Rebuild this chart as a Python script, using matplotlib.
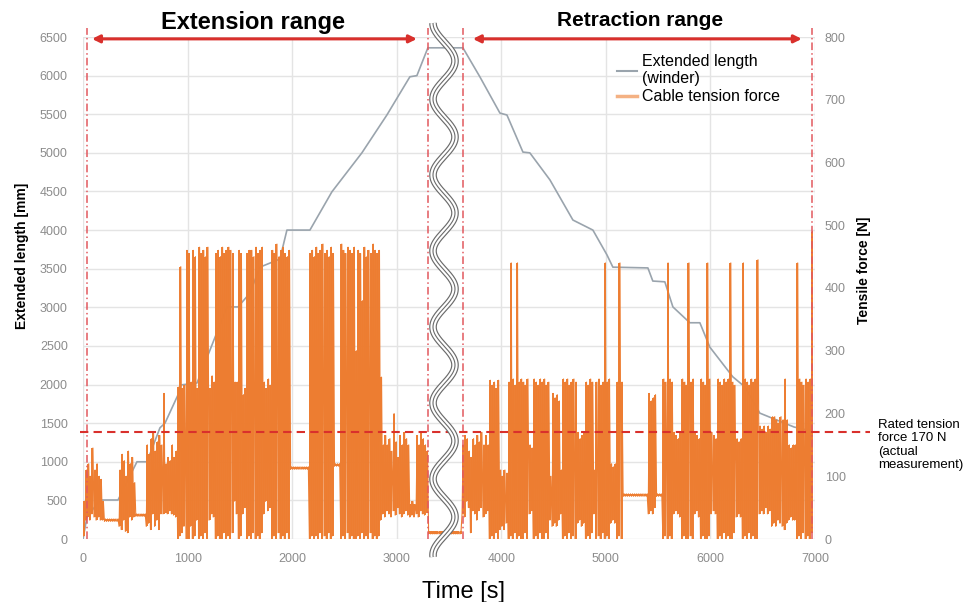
import numpy as np
import matplotlib
matplotlib.use('Agg')
import matplotlib.pyplot as plt
from matplotlib.lines import Line2D

plt.rcParams['font.family'] = ['Liberation Sans', 'DejaVu Sans']

# ─── Data ─────────────────────────────────────────────────────────────────────
# extended length of the winder [mm]
length_t = [0, 38, 163, 335, 516, 612, 736, 784, 908, 937, 1090, 1377, 1482, 1597, 1692,
            1883, 1950, 2170, 2380, 2667, 2906, 3126, 3193, 3298, 3633, 3795, 3987, 4054,
            4207, 4273, 4465, 4685, 4876, 5010, 5067, 5402, 5449, 5564, 5641, 5803, 5899,
            5994, 6214, 6329, 6472, 6635, 6800, 6960]
length_mm = [0, 285, 505, 505, 1000, 1000, 1440, 1500, 1865, 1995, 2020, 3005, 3005, 3185, 3520,
             3625, 4000, 4000, 4495, 5000, 5490, 5985, 6000, 6360, 6360, 5985, 5515, 5490,
             5010, 5000, 4650, 4130, 4000, 3680, 3520, 3510, 3340, 3330, 3005, 2800, 2800,
             2485, 2100, 1970, 1630, 1540, 1450, 1400]

# cable tension force [N]: min / max within each 20 s bin
force_t = np.arange(0, 7000, 20)
nan = np.nan
force_max = [
    60, 110, 120, 100, 145, 110, 120, 100, 95, 60,            # 0
    32, 32, 32, 32, 32, 32, 32, 110, 135, 125,                # 200
    100, 140, 120, 130, 90, 40, 40, 40, 40, 40,               # 400
    150, 135, 160, 170, 140, 155, 165, 150, 232, 120,         # 600
    130, 125, 150, 130, 140, 242, 434, 240, 245, 460,         # 800
    455, 250, 460, 450, 240, 465, 455, 460, 450, 465,         # 1000
    240, 260, 250, 455, 460, 450, 465, 455, 460, 465,         # 1200
    460, 455, 250, 250, 460, 455, 230, 240, 455, 460,         # 1400
    460, 450, 465, 455, 460, 465, 250, 240, 255, 245,         # 1600
    460, 455, 470, 450, 460, 465, 455, 450, 460, 115,         # 1800
    115, 115, 115, 115, 115, 115, 115, 115, 455, 460,         # 2000
    450, 465, 455, 460, 470, 455, 460, 450, 465, 455,         # 2200
    120, 120, 120, 470, 460, 455, 465, 460, 455, 465,         # 2400
    300, 460, 455, 380, 465, 450, 460, 455, 470, 460,         # 2600
    455, 460, 258, 150, 165, 150, 160, 140, 200, 155,         # 2800
    130, 165, 150, 170, 160, 150, 55, 60, 55, 165,            # 3000
    150, 170, 160, 150, 140, 12, 12, 12, 12, 12,              # 3200
    12, 12, 12, 12, 12, 12, 12, 12, 12, 12,                   # 3400
    12, 150, 165, 160, 140, 130, 160, 150, 165, 155,          # 3600
    170, 150, 165, 150, 253, 245, 250, 240, 253, 110,         # 3800
    100, 110, 105, 250, 440, 255, 245, 440, 250, 255,         # 4000
    250, 245, 255, 150, 145, 255, 250, 245, 255, 250,         # 4200
    255, 245, 250, 100, 232, 225, 230, 220, 110, 255,         # 4400
    250, 255, 245, 250, 255, 250, 170, 160, 165, 170,         # 4600
    250, 245, 255, 250, 110, 250, 255, 245, 250, 440,         # 4800
    250, 255, 120, 115, 120, 250, 440, 250, 72, 72,           # 5000
    72, 72, 72, 72, 72, 72, 72, 72, 72, 72,                   # 5200
    232, 220, 225, 230, 72, 72, 72, 255, 250, 440,            # 5400
    255, 250, 170, 165, 160, 170, 255, 250, 245, 440,         # 5600
    250, 255, 170, 165, 160, 255, 250, 245, 440, 255,         # 5800
    170, 165, 160, 255, 250, 245, 255, 250, 255, 440,         # 6000
    250, 245, 160, 155, 160, 440, 255, 250, 245, 255,         # 6200
    250, 255, 445, 180, 175, 180, 170, 180, 175, 195,         # 6400
    195, 190, 185, 195, 190, 255, 190, 150, 145, 150,         # 6600
    150, 440, 255, 250, 245, 255, 250, 255, 490, nan,         # 6800
]
force_min = [
    5, 30, 35, 30, 40, 35, 30, 35, 30, 30,                    # 0
    28, 28, 28, 28, 28, 28, 28, 20, 15, 30,                   # 200
    12, 10, 35, 30, 35, 36, 36, 36, 36, 36,                   # 400
    20, 25, 15, 40, 20, 30, 15, 40, 40, 42,                   # 600
    40, 45, 40, 38, 35, 0, 5, 10, 20, 0,                      # 800
    0, 20, 0, 5, 30, 0, 5, 0, 10, 0,                          # 1000
    30, 40, 35, 0, 5, 0, 0, 10, 0, 5,                         # 1200
    0, 10, 60, 40, 0, 5, 40, 50, 0, 5,                        # 1400
    0, 10, 0, 5, 0, 10, 40, 60, 45, 50,                       # 1600
    0, 5, 0, 10, 0, 5, 0, 10, 0, 111,                         # 1800
    111, 111, 111, 111, 111, 111, 111, 111, 0, 5,             # 2000
    0, 5, 0, 10, 0, 5, 0, 10, 0, 5,                           # 2200
    116, 116, 116, 0, 5, 0, 10, 0, 5, 0,                      # 2400
    0, 5, 0, 10, 0, 5, 0, 10, 0, 5,                           # 2600
    0, 5, 30, 40, 35, 45, 40, 35, 45, 38,                     # 2800
    50, 40, 35, 40, 45, 38, 35, 38, 35, 40,                   # 3000
    35, 45, 40, 38, 42, 8, 8, 8, 8, 8,                        # 3200
    8, 8, 8, 8, 8, 8, 8, 8, 8, 8,                             # 3400
    8, 40, 35, 60, 50, 10, 45, 40, 30, 45,                    # 3600
    50, 35, 40, 45, 0, 5, 0, 10, 0, 15,                       # 3800
    20, 15, 25, 0, 5, 0, 10, 0, 5, 0,                         # 4000
    0, 10, 0, 40, 45, 0, 5, 0, 10, 0,                         # 4200
    0, 10, 0, 30, 20, 25, 20, 30, 40, 0,                      # 4400
    5, 0, 10, 0, 5, 0, 25, 30, 20, 25,                        # 4600
    0, 5, 0, 10, 40, 0, 5, 0, 10, 0,                          # 4800
    5, 0, 25, 30, 25, 0, 5, 0, 68, 68,                        # 5000
    68, 68, 68, 68, 68, 68, 68, 68, 68, 68,                   # 5200
    40, 45, 40, 50, 68, 68, 68, 0, 5, 0,                      # 5400
    5, 0, 40, 45, 40, 35, 0, 5, 0, 0,                         # 5600
    5, 0, 40, 45, 35, 0, 5, 0, 0, 5,                          # 5800
    40, 45, 40, 0, 5, 0, 10, 0, 5, 0,                         # 6000
    0, 10, 35, 40, 35, 0, 5, 0, 10, 0,                        # 6200
    5, 0, 0, 40, 45, 40, 50, 40, 45, 20,                      # 6400
    25, 20, 30, 25, 20, 15, 25, 30, 35, 30,                   # 6600
    30, 0, 5, 0, 10, 0, 5, 0, 10, nan,                        # 6800
]

rated_force = 170
range_marks = [38, 3298, 3633, 6970]
extension_span = (86, 3193)
retraction_span = (3728, 6874)

GRAY = '#9aa4ad'
ORANGE = '#ED7D31'
RED = '#d9302c'
TICK = '#8c8c8c'

# ─── Figure ───────────────────────────────────────────────────────────────────
W, H = 972, 602
fig = plt.figure(figsize=(W / 100, H / 100), dpi=100)
ax = fig.add_axes([83 / W, 1 - 539 / H, (815 - 83) / W, (539 - 37) / H])
ax2 = ax.twinx()

ax.plot(length_t, length_mm, color=GRAY, linewidth=1.2, zorder=3)

# each bin drawn as a min-max bar, joined by a zigzag trace
ax2.vlines(force_t + 10, force_min, force_max, color=ORANGE, linewidth=1.4, zorder=3)
zig_t = np.column_stack([force_t + 5, force_t + 15]).ravel()
zig_v = np.column_stack([force_min, force_max]).ravel()
ax2.plot(zig_t, zig_v, color=ORANGE, linewidth=0.8, zorder=3)

# rated force line runs past the plot to the annotation
ax2.plot([-30, 7530], [rated_force, rated_force], color=RED, linewidth=1.5,
         linestyle=(0, (4, 2.5)), clip_on=False, zorder=5)

for t in range_marks:
    ax2.axvline(t, ymin=0, ymax=1.018, color='#e2585e', linewidth=1.1,
                linestyle=(0, (5, 2, 1, 2)), clip_on=False, zorder=4)

for span in (extension_span, retraction_span):
    ax2.annotate('', xy=(span[1], 797), xytext=(span[0], 797),
                 arrowprops=dict(arrowstyle='<|-|>', color=RED, lw=2.2,
                                 mutation_scale=11, shrinkA=0, shrinkB=0),
                 annotation_clip=False, zorder=6)

ax.set_xlim(0, 7000)
ax.set_ylim(0, 6500)
ax2.set_ylim(0, 800)
ax.set_xticks(range(0, 7001, 1000))
ax.set_yticks(range(0, 6501, 500))
ax2.set_yticks(range(0, 801, 100))

ax.grid(True, color='#e4e4e4', linewidth=1)
ax.set_axisbelow(True)
for a in (ax, ax2):
    for s in a.spines.values():
        s.set_visible(False)
ax.tick_params(axis='both', length=0, labelsize=9, labelcolor=TICK)
ax.tick_params(axis='y', pad=11)
ax.tick_params(axis='x', pad=10)
ax2.tick_params(axis='y', length=0, labelsize=9, labelcolor=TICK, pad=7)

handles = [Line2D([], [], color=GRAY, linewidth=1.5),
           Line2D([], [], color=ORANGE, linewidth=2.5, alpha=0.6)]
leg = ax2.legend(handles, ['Extended length\n(winder)', 'Cable tension force'],
                 loc='upper left', bbox_to_anchor=(617 / W, 1 - 54 / H),
                 bbox_transform=fig.transFigure, frameon=False, fontsize=11.5,
                 handlelength=1.25, handletextpad=0.3, borderpad=0, borderaxespad=0,
                 labelspacing=0.17)

# ─── Texts ────────────────────────────────────────────────────────────────────
fig.text(253 / W, 1 - 23 / H, 'Extension range', ha='center', va='center',
         fontsize=17, fontweight='bold')
fig.text(640 / W, 1 - 21 / H, 'Retraction range', ha='center', va='center',
         fontsize=15, fontweight='bold')
fig.text(463 / W, 4 / H, 'Time [s]', ha='center', va='baseline', fontsize=17)
fig.text(22 / W, 1 - 256 / H, 'Extended length [mm]', rotation=90, ha='center',
         va='center', fontsize=10, fontweight='bold')
fig.text(864 / W, 1 - 270 / H, 'Tensile force [N]', rotation=90, ha='center',
         va='center', fontsize=10, fontweight='bold')
fig.text(878 / W, 1 - 419 / H, 'Rated tension\nforce 170 N\n(actual\nmeasurement)',
         ha='left', va='top', fontsize=9.5, linespacing=1.15)

# ─── Axis break symbol ────────────────────────────────────────────────────────
wy = np.linspace(23, 557, 600)
wx = 444 - 11 * np.cos(2 * np.pi * (wy - 23) / 76)
for lw, col in ((5.5, '#6b6b6b'), (3.8, 'white'), (0.8, '#6b6b6b')):
    fig.add_artist(Line2D(wx / W, 1 - wy / H, transform=fig.transFigure,
                          color=col, linewidth=lw, solid_capstyle='butt', zorder=10))

fig.savefig('out.png', dpi=100)
